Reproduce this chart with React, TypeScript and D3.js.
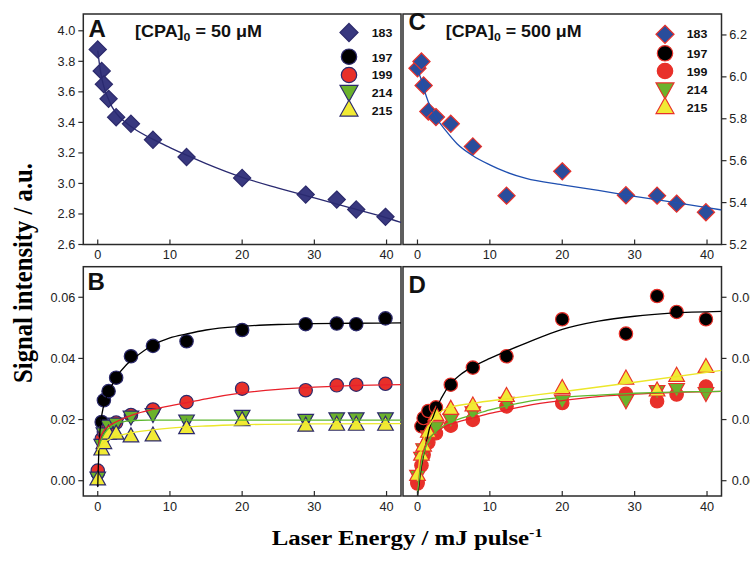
import React, { useLayoutEffect, useRef, useState } from 'react';
import * as d3 from 'd3';

// ---------- data ----------
const ENERGY = [0, 0.55, 0.85, 1.5, 2.55, 4.6, 7.65, 12.3, 20.0, 28.8, 33.1, 35.8, 39.85];

const A_183 = [3.878, 3.737, 3.649, 3.554, 3.434, 3.391, 3.286, 3.173, 3.036, 2.927, 2.894, 2.829, 2.781];
const C_183 = [6.041, 6.073, 5.959, 5.835, 5.808, 5.776, 5.668, 5.433, 5.549, 5.435, 5.433, 5.395, 5.354];

const B_197 = [0.0025, 0.0192, 0.0263, 0.0293, 0.0337, 0.0407, 0.0441, 0.0456, 0.0493, 0.0512, 0.0514, 0.0512, 0.0531];
const B_199 = [0.0033, 0.0137, 0.016, 0.0175, 0.019, 0.0215, 0.0233, 0.0257, 0.0301, 0.0296, 0.0312, 0.0314, 0.0317];
const B_214 = [0.0005, 0.0112, 0.015, 0.0175, 0.0182, 0.0205, 0.0213, 0.0192, 0.0207, 0.0194, 0.0199, 0.0199, 0.0199];
const B_215 = [0.0009, 0.0107, 0.0128, 0.0159, 0.0159, 0.015, 0.0153, 0.0177, 0.0203, 0.0185, 0.0188, 0.0188, 0.0188];

const D_197 = [-0.0005, 0.0178, 0.0205, 0.0228, 0.024, 0.0314, 0.037, 0.0407, 0.0528, 0.0481, 0.0604, 0.0552, 0.0528];
const D_199 = [-0.0009, 0.005, 0.0085, 0.0125, 0.0155, 0.018, 0.0199, 0.0243, 0.0254, 0.0284, 0.026, 0.0282, 0.0308];
const D_214 = [0.0011, 0.007, 0.0098, 0.014, 0.017, 0.0195, 0.0219, 0.025, 0.0257, 0.0258, 0.0288, 0.0295, 0.0282];
const D_215 = [0.0024, 0.009, 0.012, 0.0165, 0.022, 0.024, 0.0251, 0.0282, 0.0308, 0.0339, 0.03, 0.0348, 0.0377];

const FIT_A: [number, number][] = [[0, 3.87], [0.3, 3.76], [0.6, 3.68], [1, 3.61], [1.5, 3.55], [2, 3.5], [3, 3.435], [4, 3.395], [5, 3.36], [7.6, 3.29], [10, 3.235], [12.3, 3.185], [15, 3.13], [20, 3.04], [25, 2.97], [30, 2.905], [35, 2.84], [40, 2.775], [42, 2.745]];
const FIT_C: [number, number][] = [[0, 6.03], [0.5, 5.99], [1, 5.93], [1.5, 5.88], [2.5, 5.81], [4, 5.74], [5.5, 5.68], [7.6, 5.625], [10, 5.58], [12.3, 5.545], [15, 5.515], [20, 5.485], [25, 5.458], [30, 5.43], [35, 5.403], [40, 5.376], [42, 5.365]];

const FIT_B_197: [number, number][] = [[0, -0.002], [0.15, 0.01], [0.3, 0.016], [0.6, 0.022], [1, 0.026], [1.5, 0.029], [2.5, 0.0335], [4, 0.038], [5, 0.04], [7.6, 0.0443], [10, 0.0467], [12.3, 0.048], [15, 0.0493], [20, 0.0505], [25, 0.0511], [30, 0.0514], [35, 0.0515], [42, 0.0516]];
const FIT_B_199: [number, number][] = [[0, 0.01], [0.3, 0.0135], [0.7, 0.0158], [1.5, 0.0178], [2.5, 0.0192], [4, 0.0208], [5.5, 0.022], [7.6, 0.0233], [10, 0.0245], [12.3, 0.0255], [15, 0.0268], [20, 0.0287], [25, 0.0299], [30, 0.0306], [35, 0.0311], [42, 0.0314]];
const FIT_B_214: [number, number][] = [[0, 0.01], [0.5, 0.0135], [1, 0.0157], [2, 0.018], [3, 0.019], [4, 0.0195], [5, 0.0197], [7, 0.0198], [42, 0.0198]];
const FIT_B_215: [number, number][] = [[0, 0.01], [0.5, 0.0118], [1, 0.0128], [2, 0.014], [3, 0.0148], [5, 0.0158], [7.6, 0.0166], [10, 0.0172], [15, 0.0179], [20, 0.0183], [30, 0.0186], [42, 0.0187]];

const FIT_D_197: [number, number][] = [[0, -0.0055], [0.5, 0.004], [1, 0.01], [1.7, 0.0175], [2.4, 0.0225], [3.3, 0.027], [4.5, 0.0315], [6, 0.0348], [7.6, 0.0372], [10, 0.04], [12.3, 0.0424], [15, 0.045], [20, 0.0495], [25, 0.0522], [30, 0.0538], [35, 0.0548], [42, 0.0554]];
const FIT_D_199: [number, number][] = [[0, -0.002], [0.3, 0.004], [0.6, 0.008], [1, 0.011], [1.5, 0.0135], [2.5, 0.0158], [4, 0.018], [5.5, 0.0192], [7.6, 0.0205], [10, 0.022], [12.3, 0.0232], [15, 0.0245], [20, 0.0262], [25, 0.0275], [30, 0.0283], [35, 0.0288], [42, 0.0292]];
const FIT_D_214: [number, number][] = [[0, -0.004], [0.3, 0.002], [0.6, 0.0065], [1, 0.01], [1.5, 0.013], [2.5, 0.016], [4, 0.0185], [5.5, 0.02], [7.6, 0.0215], [10, 0.0232], [12.3, 0.0245], [15, 0.0258], [20, 0.0272], [25, 0.028], [30, 0.0286], [35, 0.029], [42, 0.0292]];
const FIT_D_215: [number, number][] = [[0, 0.0], [0.3, 0.007], [0.7, 0.012], [1.2, 0.016], [2, 0.0195], [3, 0.0222], [4.5, 0.024], [7.6, 0.0253], [12.3, 0.0268], [20, 0.0291], [30, 0.0322], [42, 0.0361]];

const X_TICKS = [0, 10, 20, 30, 40];
const A_TICKS = [2.6, 2.8, 3.0, 3.2, 3.4, 3.6, 3.8, 4.0];
const C_TICKS = [5.2, 5.4, 5.6, 5.8, 6.0, 6.2];
const BD_TICKS = [0, 0.02, 0.04, 0.06];
const LEGEND_LABELS = ['183', '197', '199', '214', '215'];

// ---------- style ----------
const SANS = 'Liberation Sans, Arial, Helvetica, sans-serif';
const SERIF = 'Liberation Serif, Times New Roman, serif';
const AXIS = '#2a2a2a';
const NAVY_EDGE = '#2c2a6c';
const RED_EDGE = '#e8312a';
const COL = {
  diamondA: '#38387f',
  diamondC: '#2a4d9c',
  black: '#000000',
  red: '#e8302a',
  green: '#6bb22c',
  yellow: '#f1ea35',
  fitA: '#2a2a70',
  fitC: '#1f4fb0',
  fitRed: '#e8202a',
  fitGreen: '#5cb82e',
  fitYellow: '#ece72a',
};
const TICK_SX = 1.06;

// ---------- geometry ----------
const xL = d3.scaleLinear().domain([-2, 42]).range([83.3, 401]);
const xR = d3.scaleLinear().domain([-2, 42]).range([403, 721.5]);
const yA = d3.scaleLinear().domain([2.6, 4.11]).range([244.5, 14]);
const yC = d3.scaleLinear().domain([5.2, 6.3]).range([244.5, 14]);
const yBD = d3.scaleLinear().domain([-0.005, 0.07]).range([496, 266.7]);

type Shape = 'diamond' | 'circle' | 'down' | 'up';

function Marker({ shape, cx, cy, fill, stroke, size = 1 }: { shape: Shape; cx: number; cy: number; fill: string; stroke: string; size?: number }) {
  const sw = 1.2;
  if (shape === 'circle') return <circle cx={cx} cy={cy} r={6.7 * size} fill={fill} stroke={stroke} strokeWidth={sw} />;
  if (shape === 'diamond') {
    const h = 8.6 * size;
    return <path d={`M${cx},${cy - h}L${cx + h},${cy}L${cx},${cy + h}L${cx - h},${cy}Z`} fill={fill} stroke={stroke} strokeWidth={sw} />;
  }
  const w = 7.8 * size, h = 7 * size;
  if (shape === 'up') return <path d={`M${cx},${cy - h}L${cx + w},${cy + h}L${cx - w},${cy + h}Z`} fill={fill} stroke={stroke} strokeWidth={sw} />;
  return <path d={`M${cx - w},${cy - h}L${cx + w},${cy - h}L${cx},${cy + h}Z`} fill={fill} stroke={stroke} strokeWidth={sw} />;
}

function FitText({ x, y, width, rotate = 0, sy = 1, anchor = 'start', style, children }: any) {
  const ref = useRef<SVGTextElement>(null);
  const [s, setS] = useState(1);
  useLayoutEffect(() => {
    if (ref.current) {
      const w = ref.current.getBBox().width;
      if (w > 0) setS(width / w);
    }
  }, [width]);
  return (
    <g transform={`translate(${x},${y}) rotate(${rotate}) scale(${s},${sy})`}>
      <text ref={ref} textAnchor={anchor} style={style}>{children}</text>
    </g>
  );
}

function Frame({ x, y, id }: { x: d3.ScaleLinear<number, number>; y: d3.ScaleLinear<number, number>; id: string }) {
  const [x0, x1] = x.range();
  const [y1, y0] = y.range();
  return (
    <g>
      <defs>
        <clipPath id={id}>
          <rect x={x0} y={y0} width={x1 - x0} height={y1 - y0} />
        </clipPath>
      </defs>
      <rect x={x0} y={y0} width={x1 - x0} height={y1 - y0} fill="none" stroke={AXIS} strokeWidth={1.5} />
    </g>
  );
}

function Axes({ x, y, side, ticks, fmt, labelGap }: { x: d3.ScaleLinear<number, number>; y: d3.ScaleLinear<number, number>; side: 'left' | 'right'; ticks: number[]; fmt: (v: number) => string; labelGap: number }) {
  const [x0, x1] = x.range();
  const [y1] = y.range();
  return (
    <g>
      {X_TICKS.map((t) => (
        <g key={'x' + t}>
          <line x1={x(t)} x2={x(t)} y1={y1} y2={y1 - 5} stroke={AXIS} strokeWidth={1.2} />
          <text transform={`translate(${x(t)},${y1 + 14.5}) scale(${TICK_SX},1)`} textAnchor="middle" fontFamily={SANS} fontSize={12} fill="#222">{t}</text>
        </g>
      ))}
      {ticks.map((t) => {
        const yy = y(t);
        if (side === 'left')
          return (
            <g key={'y' + t}>
              <line x1={x0 - 5} x2={x0} y1={yy} y2={yy} stroke={AXIS} strokeWidth={1.2} />
              <text transform={`translate(${x0 - labelGap},${yy + 4.3}) scale(${TICK_SX},1)`} textAnchor="end" fontFamily={SANS} fontSize={12} fill="#222">{fmt(t)}</text>
            </g>
          );
        return (
          <g key={'y' + t}>
            <line x1={x1} x2={x1 + 5} y1={yy} y2={yy} stroke={AXIS} strokeWidth={1.2} />
            <text transform={`translate(${x1 + labelGap},${yy + 4.3}) scale(${TICK_SX},1)`} textAnchor="start" fontFamily={SANS} fontSize={12} fill="#222">{fmt(t)}</text>
          </g>
        );
      })}
    </g>
  );
}

function FitLine({ pts, x, y, color, clip }: { pts: [number, number][]; x: any; y: any; color: string; clip: string }) {
  const gen = d3.line<[number, number]>().x((d) => x(d[0])).y((d) => y(d[1])).curve(d3.curveMonotoneX);
  return <path d={gen(pts) || ''} fill="none" stroke={color} strokeWidth={1.3} clipPath={`url(#${clip})`} />;
}

function Points({ vals, x, y, shape, fill, stroke }: { vals: number[]; x: any; y: any; shape: Shape; fill: string; stroke: string }) {
  return (
    <g>
      {vals.map((v, i) => (
        <Marker key={i} shape={shape} cx={x(ENERGY[i])} cy={y(v)} fill={fill} stroke={stroke} />
      ))}
    </g>
  );
}

function Legend({ sx, tx, rows, edge, diamondFill }: { sx: number; tx: number; rows: { sy: number; ty: number }[]; edge: string; diamondFill: string }) {
  const shapes: Shape[] = ['diamond', 'circle', 'circle', 'down', 'up'];
  const fills = [diamondFill, COL.black, COL.red, COL.green, COL.yellow];
  return (
    <g>
      {LEGEND_LABELS.map((lab, i) => (
        <g key={lab}>
          <Marker shape={shapes[i]} cx={sx} cy={rows[i].sy} fill={fills[i]} stroke={edge} size={i === 0 ? 1.05 : 1.15} />
          <text transform={`translate(${tx},${rows[i].ty}) scale(1.08,1)`} fontFamily={SANS} fontWeight="bold" fontSize={11.5} fill="#111">{lab}</text>
        </g>
      ))}
    </g>
  );
}

function Title({ x, y, width, conc }: { x: number; y: number; width: number; conc: string }) {
  return (
    <FitText x={x} y={y} width={width} style={{ fontFamily: SANS, fontWeight: 'bold', fontSize: 16, fill: '#111' }}>
      <tspan>[CPA]</tspan>
      <tspan dy={4} fontSize={11}>0</tspan>
      <tspan dy={-4}>{` = ${conc} \u03BCM`}</tspan>
    </FitText>
  );
}

export default function App() {
  const fmt1 = (v: number) => v.toFixed(1);
  const fmt2 = (v: number) => v.toFixed(2);
  const letter = { fontFamily: SANS, fontWeight: 'bold' as const, fontSize: 24, fill: '#111' };
  return (
    <svg width={750} height={567} style={{ position: 'absolute', left: 0, top: 0, background: '#fff' }}>
      <rect x={0} y={0} width={750} height={567} fill="#fff" />

      {/* Panel A */}
      <Frame x={xL} y={yA} id="clipA" />
      <Points vals={A_183} x={xL} y={yA} shape="diamond" fill={COL.diamondA} stroke={NAVY_EDGE} />
      <FitLine pts={FIT_A} x={xL} y={yA} color={COL.fitA} clip="clipA" />
      <Axes x={xL} y={yA} side="left" ticks={A_TICKS} fmt={fmt1} labelGap={8} />

      {/* Panel C */}
      <Frame x={xR} y={yC} id="clipC" />
      <Points vals={C_183} x={xR} y={yC} shape="diamond" fill={COL.diamondC} stroke={RED_EDGE} />
      <FitLine pts={FIT_C} x={xR} y={yC} color={COL.fitC} clip="clipC" />
      <Axes x={xR} y={yC} side="right" ticks={C_TICKS} fmt={fmt1} labelGap={7.8} />

      {/* Panel B */}
      <Frame x={xL} y={yBD} id="clipB" />
      <Points vals={B_197} x={xL} y={yBD} shape="circle" fill={COL.black} stroke={NAVY_EDGE} />
      <Points vals={B_199} x={xL} y={yBD} shape="circle" fill={COL.red} stroke={NAVY_EDGE} />
      <Points vals={B_214} x={xL} y={yBD} shape="down" fill={COL.green} stroke={NAVY_EDGE} />
      <Points vals={B_215} x={xL} y={yBD} shape="up" fill={COL.yellow} stroke={NAVY_EDGE} />
      <FitLine pts={FIT_B_197} x={xL} y={yBD} color={COL.black} clip="clipB" />
      <FitLine pts={FIT_B_199} x={xL} y={yBD} color={COL.fitRed} clip="clipB" />
      <FitLine pts={FIT_B_214} x={xL} y={yBD} color={COL.fitGreen} clip="clipB" />
      <FitLine pts={FIT_B_215} x={xL} y={yBD} color={COL.fitYellow} clip="clipB" />
      <Axes x={xL} y={yBD} side="left" ticks={BD_TICKS} fmt={fmt2} labelGap={8} />

      {/* Panel D */}
      <Frame x={xR} y={yBD} id="clipD" />
      <Points vals={D_197} x={xR} y={yBD} shape="circle" fill={COL.black} stroke={RED_EDGE} />
      <Points vals={D_199} x={xR} y={yBD} shape="circle" fill={COL.red} stroke={RED_EDGE} />
      <Points vals={D_214} x={xR} y={yBD} shape="down" fill={COL.green} stroke={RED_EDGE} />
      <Points vals={D_215} x={xR} y={yBD} shape="up" fill={COL.yellow} stroke={RED_EDGE} />
      <FitLine pts={FIT_D_197} x={xR} y={yBD} color={COL.black} clip="clipD" />
      <FitLine pts={FIT_D_199} x={xR} y={yBD} color={COL.fitRed} clip="clipD" />
      <FitLine pts={FIT_D_214} x={xR} y={yBD} color={COL.fitGreen} clip="clipD" />
      <FitLine pts={FIT_D_215} x={xR} y={yBD} color={COL.fitYellow} clip="clipD" />
      <Axes x={xR} y={yBD} side="right" ticks={BD_TICKS} fmt={fmt2} labelGap={10.2} />

      {/* Panel letters and titles */}
      <text x={88.5} y={37.3} style={letter}>A</text>
      <text x={87.5} y={290} style={letter}>B</text>
      <text x={408.5} y={30} style={letter}>C</text>
      <text x={408.5} y={293.3} style={letter}>D</text>
      <Title x={135} y={37.3} width={127} conc="50" />
      <Title x={445.7} y={36.8} width={136} conc="500" />

      {/* Legends */}
      <Legend sx={349} tx={371.7} edge={NAVY_EDGE} diamondFill={COL.diamondA}
        rows={[{ sy: 32.5, ty: 37.3 }, { sy: 56.7, ty: 61.5 }, { sy: 75, ty: 79 }, { sy: 93.5, ty: 97 }, { sy: 108, ty: 114.5 }]} />
      <Legend sx={665} tx={686.7} edge={RED_EDGE} diamondFill={COL.diamondC}
        rows={[{ sy: 34.3, ty: 38.3 }, { sy: 53.3, ty: 58.3 }, { sy: 71, ty: 76 }, { sy: 91, ty: 94.3 }, { sy: 105.5, ty: 112.3 }]} />

      {/* Axis titles */}
      <FitText x={31.5} y={273} width={220} rotate={-90} sy={1.15} anchor="middle"
        style={{ fontFamily: SERIF, fontWeight: 'bold', fontSize: 24, fill: '#000' }}>
        Signal intensity / a.u.
      </FitText>
      <FitText x={271.7} y={545} width={271} style={{ fontFamily: SERIF, fontWeight: 'bold', fontSize: 20, fill: '#000' }}>
        <tspan>Laser Energy / mJ pulse</tspan>
        <tspan dy={-8} fontSize={13}>-1</tspan>
      </FitText>
    </svg>
  );
}
